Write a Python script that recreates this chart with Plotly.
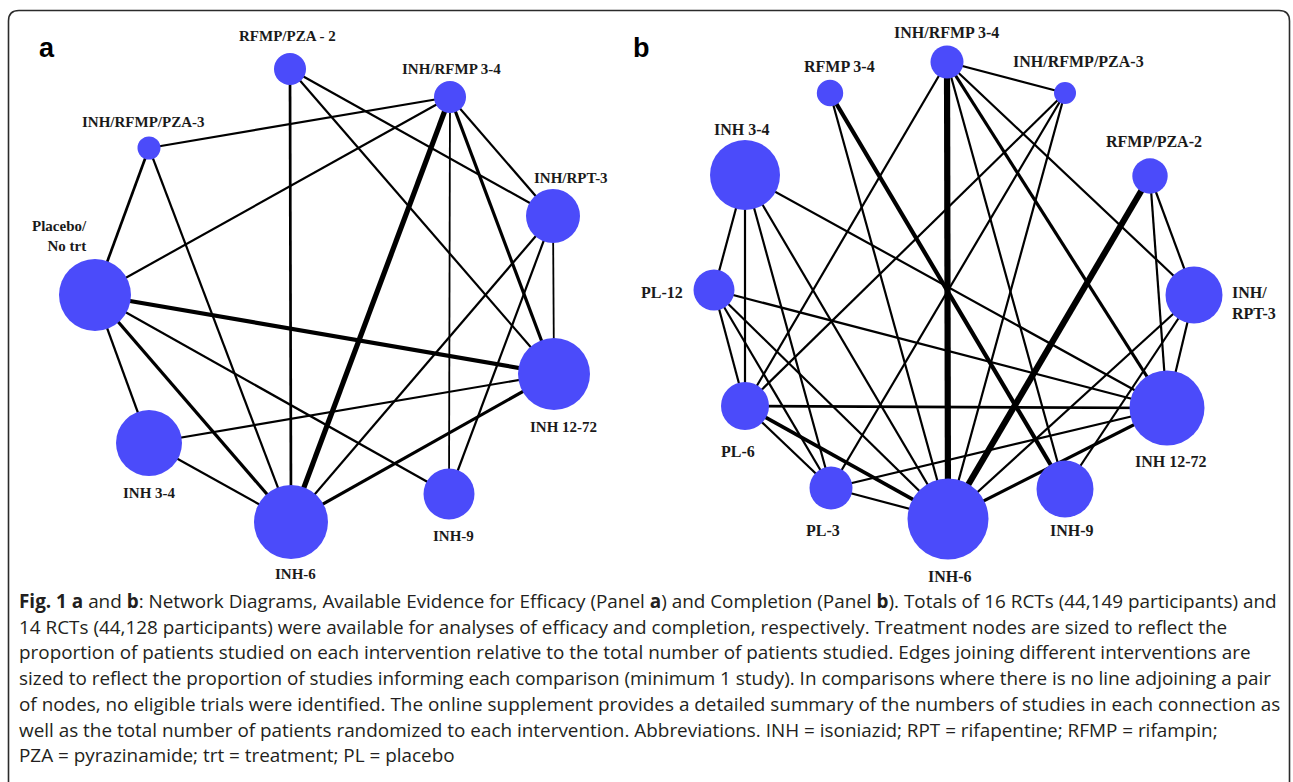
import plotly.graph_objects as go

# ---------------- Panel a: efficacy network ----------------
treat_a = ["RFMP/PZA - 2", "INH/RFMP 3-4", "INH/RFMP/PZA-3", "INH/RPT-3",
           "Placebo/No trt", "INH 12-72", "INH 3-4", "INH-6", "INH-9"]
# relative share of patients on each intervention (drawn as node radius)
patients_a = [16, 16, 11.5, 27, 36, 36, 33, 37, 25.5]

edges_a = [
    ("RFMP/PZA - 2", "INH-6"), ("RFMP/PZA - 2", "INH/RPT-3"), ("RFMP/PZA - 2", "INH 12-72"),
    ("INH/RFMP 3-4", "INH/RFMP/PZA-3"), ("INH/RFMP 3-4", "Placebo/No trt"),
    ("INH/RFMP 3-4", "INH-6"), ("INH/RFMP 3-4", "INH-9"), ("INH/RFMP 3-4", "INH/RPT-3"),
    ("INH/RFMP 3-4", "INH 12-72"), ("INH/RFMP/PZA-3", "Placebo/No trt"),
    ("INH/RFMP/PZA-3", "INH-6"), ("INH/RPT-3", "INH-6"), ("INH/RPT-3", "INH-9"),
    ("INH/RPT-3", "INH 12-72"), ("Placebo/No trt", "INH 12-72"), ("Placebo/No trt", "INH 3-4"),
    ("Placebo/No trt", "INH-6"), ("Placebo/No trt", "INH-9"), ("INH 3-4", "INH 12-72"),
    ("INH 3-4", "INH-6"), ("INH-6", "INH 12-72"),
]
studies_a = [1.5, 1, 1, 1, 1, 4, 0.6, 1, 2, 1.5, 1, 1, 1, 0.6, 3, 1, 2, 1, 1, 1, 2]

# ---------------- Panel b: completion network ----------------
treat_b = ["INH/RFMP 3-4", "RFMP 3-4", "INH/RFMP/PZA-3", "INH 3-4", "RFMP/PZA-2",
           "PL-12", "INH/RPT-3", "PL-6", "INH 12-72", "PL-3", "INH-6", "INH-9"]
patients_b = [16.5, 13.2, 11, 35, 17.7, 20.5, 28.5, 24, 37.5, 21.5, 40.5, 28.5]

edges_b = [
    ("INH/RFMP 3-4", "INH/RFMP/PZA-3"), ("INH/RFMP 3-4", "INH-6"), ("INH/RFMP 3-4", "PL-6"),
    ("INH/RFMP 3-4", "INH-9"), ("INH/RFMP 3-4", "INH 12-72"), ("INH/RFMP 3-4", "INH/RPT-3"),
    ("INH/RFMP/PZA-3", "PL-6"), ("INH/RFMP/PZA-3", "PL-3"), ("INH/RFMP/PZA-3", "INH-6"),
    ("RFMP 3-4", "INH-6"), ("RFMP 3-4", "INH-9"),
    ("INH 3-4", "PL-12"), ("INH 3-4", "PL-6"), ("INH 3-4", "PL-3"), ("INH 3-4", "INH-6"),
    ("INH 3-4", "INH 12-72"),
    ("RFMP/PZA-2", "INH-6"), ("RFMP/PZA-2", "INH 12-72"), ("RFMP/PZA-2", "INH/RPT-3"),
    ("PL-12", "INH 12-72"), ("PL-12", "PL-6"), ("PL-12", "PL-3"), ("PL-12", "INH-6"),
    ("INH/RPT-3", "INH 12-72"), ("INH/RPT-3", "INH-6"), ("INH/RPT-3", "INH-9"),
    ("PL-6", "INH 12-72"), ("PL-6", "PL-3"), ("PL-6", "INH-6"),
    ("PL-3", "INH 12-72"), ("PL-3", "INH-6"), ("INH-6", "INH 12-72"),
]
studies_b = [1, 5, 1, 1, 2, 1, 1, 1, 1, 1, 3, 1, 1, 1, 1, 1, 5, 1, 1,
             1, 1, 1, 1, 1, 1, 1, 1.5, 1, 2.5, 1, 1, 2]

caption_lines = [
    "<b>Fig. 1 a</b> and <b>b</b>: Network Diagrams, Available Evidence for Efficacy (Panel <b>a</b>) "
    "and Completion (Panel <b>b</b>). Totals of 16 RCTs (44,149 participants) and",
    "14 RCTs (44,128 participants) were available for analyses of efficacy and completion, "
    "respectively. Treatment nodes are sized to reflect the",
    "proportion of patients studied on each intervention relative to the total number of patients "
    "studied. Edges joining different interventions are",
    "sized to reflect the proportion of studies informing each comparison (minimum 1 study). "
    "In comparisons where there is no line adjoining a pair",
    "of nodes, no eligible trials were identified. The online supplement provides a detailed "
    "summary of the numbers of studies in each connection as",
    "well as the total number of patients randomized to each intervention. Abbreviations. "
    "INH = isoniazid; RPT = rifapentine; RFMP = rifampin;",
    "PZA = pyrazinamide; trt = treatment; PL = placebo",
]

# ---------------- layout (pixel canvas coordinates) ----------------
W, H = 1293, 782
NODE_COLOR = "#4b4bfa"
LABEL_FONT = "Liberation Serif, Times New Roman, serif"

pos_a = {
    "RFMP/PZA - 2": (290, 69), "INH/RFMP 3-4": (450, 97), "INH/RFMP/PZA-3": (149, 148),
    "INH/RPT-3": (553, 216), "Placebo/No trt": (95, 295), "INH 12-72": (554, 374),
    "INH 3-4": (149, 443), "INH-6": (291, 522), "INH-9": (449, 494),
}
# label: (text, x, y, xanchor)
labels_a = {
    "RFMP/PZA - 2": ("RFMP/PZA - 2", 287, 36, "center"),
    "INH/RFMP 3-4": ("INH/RFMP 3-4", 451, 69, "center"),
    "INH/RFMP/PZA-3": ("INH/RFMP/PZA-3", 143, 122, "center"),
    "INH/RPT-3": ("INH/RPT-3", 571, 178, "center"),
    "Placebo/No trt": ("Placebo/<br>No trt", 89, 236, "right"),
    "INH 12-72": ("INH 12-72", 563, 427, "center"),
    "INH 3-4": ("INH 3-4", 149, 493, "center"),
    "INH-6": ("INH-6", 295, 574, "center"),
    "INH-9": ("INH-9", 453, 536, "center"),
}

pos_b = {
    "INH/RFMP 3-4": (947, 62), "RFMP 3-4": (830, 93), "INH/RFMP/PZA-3": (1065, 93),
    "INH 3-4": (745, 175), "RFMP/PZA-2": (1150, 176), "PL-12": (714, 290),
    "INH/RPT-3": (1194, 295), "PL-6": (745, 406), "INH 12-72": (1167, 408),
    "PL-3": (831, 488), "INH-6": (948, 519), "INH-9": (1065, 489),
}
labels_b = {
    "INH/RFMP 3-4": ("INH/RFMP 3-4", 946, 32, "center"),
    "RFMP 3-4": ("RFMP 3-4", 839, 66, "center"),
    "INH/RFMP/PZA-3": ("INH/RFMP/PZA-3", 1078, 61, "center"),
    "INH 3-4": ("INH 3-4", 742, 129, "center"),
    "RFMP/PZA-2": ("RFMP/PZA-2", 1154, 141, "center"),
    "PL-12": ("PL-12", 685, 292, "right"),
    "INH/RPT-3": ("INH/<br>RPT-3", 1230, 303, "left"),
    "PL-6": ("PL-6", 738, 451, "center"),
    "INH 12-72": ("INH 12-72", 1171, 461, "center"),
    "PL-3": ("PL-3", 823, 530, "center"),
    "INH-6": ("INH-6", 950, 576, "center"),
    "INH-9": ("INH-9", 1072, 530, "center"),
}


def edge_width(n):
    return 1.2 + 1.0 * n


fig = go.Figure()


def add_network(treats, sizes, edges, studies, pos, labels, font_size):
    for (a, b), n in zip(edges, studies):
        fig.add_trace(go.Scatter(
            x=[pos[a][0], pos[b][0]], y=[pos[a][1], pos[b][1]],
            mode="lines", line=dict(color="black", width=edge_width(n)),
            hoverinfo="skip", showlegend=False,
        ))
    fig.add_trace(go.Scatter(
        x=[pos[t][0] for t in treats], y=[pos[t][1] for t in treats],
        mode="markers",
        marker=dict(size=[2 * s for s in sizes], color=NODE_COLOR, opacity=1,
                    line=dict(width=0)),
        text=treats, hoverinfo="text", showlegend=False,
    ))
    for t in treats:
        txt, lx, ly, anchor = labels[t]
        fig.add_annotation(
            x=lx, y=ly, text=f"<b>{txt}</b>", showarrow=False,
            xanchor=anchor, yanchor="middle", align=anchor if anchor != "center" else "center",
            font=dict(family=LABEL_FONT, size=font_size, color="#1a1a1a"),
        )


add_network(treat_a, patients_a, edges_a, studies_a, pos_a, labels_a, 15)
add_network(treat_b, patients_b, edges_b, studies_b, pos_b, labels_b, 16)

# panel letters
for letter, lx in (("a", 47), ("b", 641)):
    fig.add_annotation(x=lx, y=48, text=f"<b>{letter}</b>", showarrow=False,
                       xanchor="center", yanchor="middle",
                       font=dict(family="Liberation Sans, Arial, sans-serif", size=27, color="black"))

# caption
for i, line in enumerate(caption_lines):
    fig.add_annotation(x=17, y=601 + i * 25.7, text=line, showarrow=False,
                       xanchor="left", yanchor="middle", align="left",
                       font=dict(family="Open Sans, sans-serif", size=18.9, color="#231f20"))

# figure frame with rounded top corners
fig.add_shape(type="path",
              path="M 8.5,800 L 8.5,21 Q 8.5,10.5 19,10.5 L 1279,10.5 Q 1289.5,10.5 1289.5,21 L 1289.5,800",
              line=dict(color="#2b2b2b", width=1.6), xref="x", yref="y", layer="above")

fig.update_xaxes(range=[0, W], visible=False, fixedrange=True)
fig.update_yaxes(range=[H, 0], visible=False, fixedrange=True)
fig.update_layout(width=W, height=H, margin=dict(l=0, r=0, t=0, b=0),
                  paper_bgcolor="white", plot_bgcolor="white", showlegend=False)

fig.write_html("out.html")
